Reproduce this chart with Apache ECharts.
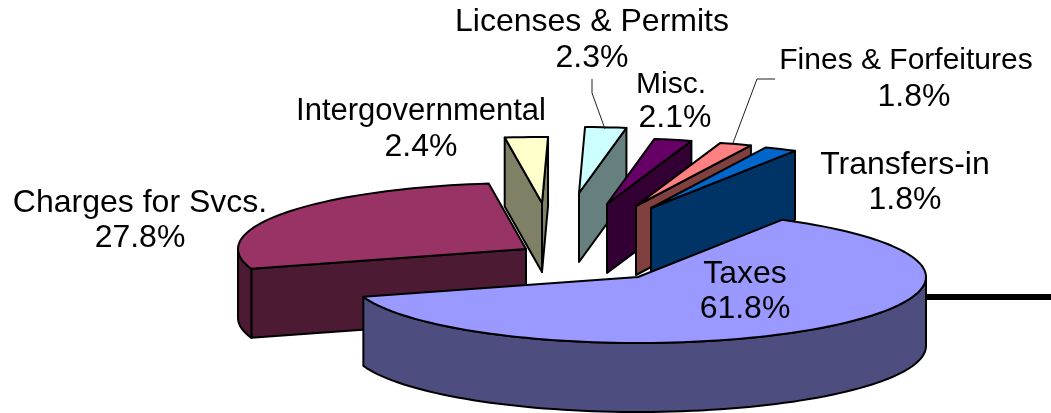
<!DOCTYPE html>
<html>
<head>
<meta charset="utf-8">
<style>
	html, body { margin: 0; padding: 0; background: #fff; }
	#chart { width: 1051px; height: 413px; }
</style>
<script src="https://cdn.jsdelivr.net/npm/echarts@6/dist/echarts.min.js"></script>
</head>
<body>
<div id="chart"></div>
<script>
const categories = ['Taxes', 'Charges for Svcs.', 'Intergovernmental', 'Licenses & Permits', 'Misc.', 'Fines & Forfeitures', 'Transfers-in'];
const shares = [61.8, 27.8, 2.4, 2.3, 2.1, 1.8, 1.8];

const topColors = ['#9999ff', '#993366', '#ffffcc', '#ccffff', '#660066', '#ff8080', '#0066cc'];
const wallColors = ['#4d4d80', '#4d1a33', '#808066', '#668080', '#330033', '#804040', '#003366'];

// exploded apex of each slice, same order as categories
const apexX = [638, 526, 542, 579, 607, 636, 651];
const apexY = [277, 249, 203, 193, 204, 206, 208];
// label lines: [x, y] of the name, [x, y] of the percentage
const nameAt = [[745, 274], [140, 203], [421, 111], [592, 22], [671, 85], [906, 61], [905, 165]];
const shareAt = [[745, 309], [140, 238], [421, 147], [592, 58], [675, 118], [914, 97], [905, 200]];
// the reference's hinted text runs a little wider or narrower per label
const nameSizes = [32, 32, 31, 32, 30, 30, 32];
const leaders = {
	'Licenses & Permits': [[592, 79], [592, 93], [605, 129]],
	'Fines & Forfeitures': [[775, 79], [757, 79], [733, 143]]
};
// back to front
const paintOrder = [2, 1, 3, 4, 5, 6, 0];

const firstAngle = 30;
const radiusX = 288;
const radiusY = 66;
const depth = 69;
const fontFamily = '"Liberation Sans", Arial, sans-serif';

const total = shares.reduce((a, b) => a + b, 0);
let running = firstAngle;
const startAngles = shares.map(v => {
	let s = running;
	running += v / total * 360;
	return s;
});

function rimPoint(cx, cy, angle){
	let rad = angle * Math.PI / 180;
	return [cx + radiusX * Math.sin(rad), cy - radiusY * Math.cos(rad)];
}

function drop(p){
	return [p[0], p[1] + depth];
}

function poly(points, fill, z2){
	return {
		type: 'polygon',
		z2: z2,
		shape: {points: points},
		style: {fill: fill, stroke: '#000', lineWidth: 2, lineJoin: 'round'}
	};
}

function arcPoints(cx, cy, from, to){
	let pts = [];
	let steps = Math.max(2, Math.ceil((to - from) / 2));
	for(let i = 0; i <= steps; i++){
		pts.push(rimPoint(cx, cy, from + (to - from) * i / steps));
	}
	return pts;
}

function textLine(text, at, size){
	return {
		type: 'text',
		z2: 5,
		style: {
			text: text,
			x: at[0],
			y: at[1],
			fill: '#000',
			font: `${size}px ${fontFamily}`,
			align: 'center',
			verticalAlign: 'middle'
		}
	};
}

function renderSlice(params, api){
	let idx = api.value(1);
	let value = api.value(0);
	let from = startAngles[idx];
	let to = from + value / total * 360;
	let cx = apexX[idx], cy = apexY[idx];
	let apex = [cx, cy];
	let top = topColors[idx], wall = wallColors[idx];
	let children = [];

	// radial wall, only the side that faces the viewer
	let fromMod = from % 360, toMod = to % 360;
	if(fromMod > 180){
		let rim = rimPoint(cx, cy, from);
		children.push(poly([apex, rim, drop(rim), drop(apex)], wall, 1));
	}
	if(toMod < 180){
		let rim = rimPoint(cx, cy, to);
		children.push(poly([apex, rim, drop(rim), drop(apex)], wall, 1));
	}
	// outer wall, front half of the rim only
	let frontFrom = Math.max(from, 90), frontTo = Math.min(to, 270);
	if(frontTo > frontFrom){
		let arc = arcPoints(cx, cy, frontFrom, frontTo);
		children.push(poly(arc.concat(arc.map(drop).reverse()), wall, 2));
	}
	children.push(poly([apex].concat(arcPoints(cx, cy, from, to)), top, 3));

	let name = categories[idx];
	if(leaders[name]){
		children.push({
			type: 'polyline',
			z2: 4,
			shape: {points: leaders[name]},
			style: {fill: null, stroke: '#222', lineWidth: 1}
		});
	}
	children.push(textLine(name, nameAt[idx], nameSizes[idx]));
	children.push(textLine(value.toFixed(1) + '%', shareAt[idx], 32));
	return {type: 'group', children: children};
}

const chart = echarts.init(document.getElementById('chart'), null, {renderer: 'canvas'});
chart.setOption({
	animation: false,
	backgroundColor: '#fff',
	graphic: [{
		type: 'rect',
		z: 0,
		shape: {x: 925, y: 294, width: 126, height: 6},
		style: {fill: '#000'}
	}],
	series: [{
		type: 'custom',
		coordinateSystem: 'none',
		z: 2,
		renderItem: renderSlice,
		data: paintOrder.map(i => [shares[i], i])
	}]
});
</script>
</body>
</html>
